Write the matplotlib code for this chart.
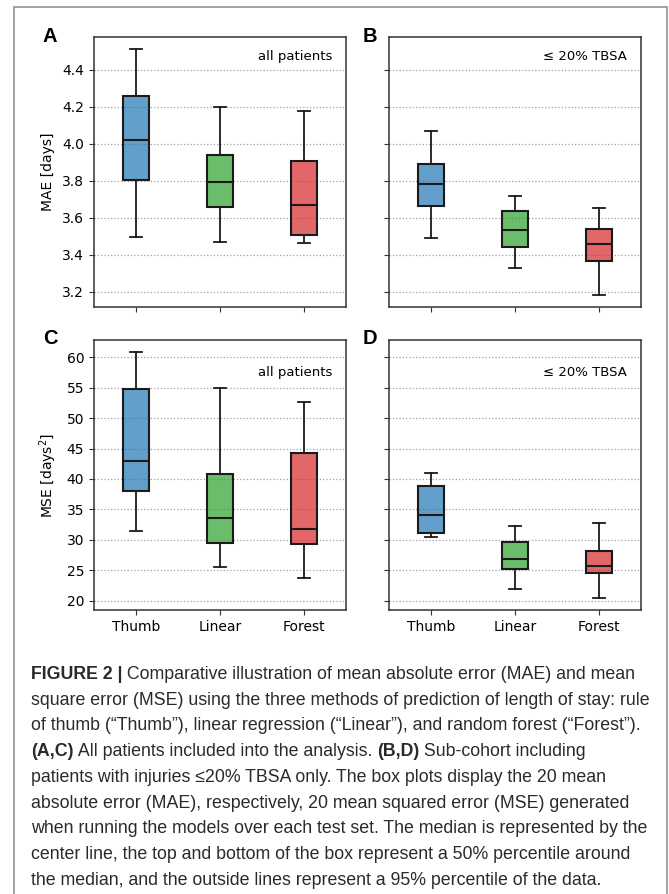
import matplotlib.pyplot as plt
from matplotlib.patches import Rectangle
from matplotlib.colors import to_rgba

methods = ["Thumb", "Linear", "Forest"]
box_colors = ["tab:blue", "tab:green", "tab:red"]

# per method: whisker low, q1, median, q3, whisker high
mae_all = [[3.494, 3.805, 4.020, 4.256, 4.510],
           [3.470, 3.656, 3.795, 3.937, 4.198],
           [3.465, 3.506, 3.670, 3.908, 4.177]]
mae_small = [[3.489, 3.665, 3.784, 3.890, 4.069],
             [3.330, 3.440, 3.533, 3.638, 3.719],
             [3.181, 3.368, 3.458, 3.539, 3.654]]
mse_all = [[31.45, 37.97, 43.01, 54.74, 60.80],
           [25.53, 29.42, 33.59, 40.77, 55.01],
           [23.78, 29.37, 31.73, 44.27, 52.71]]
mse_small = [[30.47, 31.18, 34.14, 38.85, 40.99],
             [21.86, 25.15, 26.79, 29.59, 32.33],
             [20.38, 24.49, 25.75, 28.22, 32.71]]

mae_ticks = [3.2, 3.4, 3.6, 3.8, 4.0, 4.2, 4.4]
mse_ticks = [20, 25, 30, 35, 40, 45, 50, 55, 60]

caption = [
    [("FIGURE 2 |", True), (" Comparative illustration of mean absolute error (MAE) and mean", False)],
    [("square error (MSE) using the three methods of prediction of length of stay: rule", False)],
    [("of thumb (\u201cThumb\u201d), linear regression (\u201cLinear\u201d), and random forest (\u201cForest\u201d).", False)],
    [("(A,C)", True), (" All patients included into the analysis. ", False), ("(B,D)", True), (" Sub-cohort including", False)],
    [("patients with injuries \u226420% TBSA only. The box plots display the 20 mean", False)],
    [("absolute error (MAE), respectively, 20 mean squared error (MSE) generated", False)],
    [("when running the models over each test set. The median is represented by the", False)],
    [("center line, the top and bottom of the box represent a 50% percentile around", False)],
    [("the median, and the outside lines represent a 95% percentile of the data.", False)],
]

W, H = 669, 894
fig = plt.figure(figsize=(W / 100, H / 100), dpi=100)

def px_axes(x0, x1, y0, y1, **kw):
    return fig.add_axes([x0 / W, 1 - y1 / H, (x1 - x0) / W, (y1 - y0) / H], **kw)

axA = px_axes(94, 346, 37, 307)
axB = px_axes(389, 641, 37, 307, sharey=axA)
axC = px_axes(94, 346, 340, 610, sharex=axA)
axD = px_axes(389, 641, 340, 610, sharey=axC, sharex=axB)

def draw(ax, data):
    stats = [dict(whislo=d[0], q1=d[1], med=d[2], q3=d[3], whishi=d[4], fliers=[]) for d in data]
    res = ax.bxp(stats, positions=[1, 2, 3], widths=0.3, patch_artist=True, showfliers=False,
                 boxprops=dict(edgecolor="#1a1a1a", linewidth=1.5),
                 medianprops=dict(color="#1a1a1a", linewidth=1.5),
                 whiskerprops=dict(color="#1a1a1a", linewidth=1.3),
                 capprops=dict(color="#1a1a1a", linewidth=1.3))
    for box, c in zip(res["boxes"], box_colors):
        r, g, b, _ = to_rgba(c)
        box.set_facecolor((r, g, b, 0.7))
    ax.set_xlim(0.5, 3.5)
    ax.set_xticks([1, 2, 3])
    ax.set_xticklabels(methods)
    ax.yaxis.grid(True, linestyle=":", color="#a0a0a0", linewidth=0.9)
    ax.set_axisbelow(True)
    ax.tick_params(labelsize=10, color="#333333")
    for s in ax.spines.values():
        s.set_color("#333333")
        s.set_linewidth(1.1)

draw(axA, mae_all)
draw(axB, mae_small)
draw(axC, mse_all)
draw(axD, mse_small)

axA.set_yticks(mae_ticks)
axC.set_yticks(mse_ticks)
axA.set_ylim(3.117, 4.577)
axC.set_ylim(18.45, 62.85)

for ax in (axA, axB):
    ax.tick_params(labelbottom=False)
for ax in (axB, axD):
    ax.tick_params(labelleft=False)

axA.set_ylabel("MAE [days]", fontsize=10)
axC.set_ylabel("MSE [days$^2$]", fontsize=10)
axA.yaxis.set_label_coords(-0.155, 0.5)
axC.yaxis.set_label_coords(-0.14, 0.5)

axA.text(0.945, 0.928, "all patients", transform=axA.transAxes, ha="right", va="center", fontsize=9.5)
axB.text(0.945, 0.928, "\u2264 20% TBSA", transform=axB.transAxes, ha="right", va="center", fontsize=9.5)
axC.text(0.945, 0.88, "all patients", transform=axC.transAxes, ha="right", va="center", fontsize=9.5)
axD.text(0.945, 0.88, "\u2264 20% TBSA", transform=axD.transAxes, ha="right", va="center", fontsize=9.5)

for lab, x, y in [("A", 50, 36), ("B", 370, 36), ("C", 50, 339), ("D", 370, 339)]:
    fig.text(x / W, 1 - y / H, lab, ha="center", va="center", fontsize=14.5,
             fontweight="bold", family="Liberation Sans")

# outer frame of the figure panel
fig.patches.append(Rectangle((14 / W, -0.05), (667 - 14) / W, 1.05 - 6.5 / H, transform=fig.transFigure,
                             fill=False, edgecolor="#8a8a8a", linewidth=1.1, clip_on=False))

# caption, built piece by piece so bold words sit inline
renderer = fig.canvas.get_renderer()
y0, dy = 674.5, 25.7
for i, parts in enumerate(caption):
    x = 31 / W
    for txt, bold in parts:
        t = fig.text(x, 1 - (y0 + i * dy) / H, txt, ha="left", va="center", fontsize=12.8,
                     family="Liberation Sans", fontweight="bold" if bold else "normal", color="#2a2a2a")
        bb = t.get_window_extent(renderer)
        x = bb.x1 / W

fig.savefig("out.png", dpi=100)
